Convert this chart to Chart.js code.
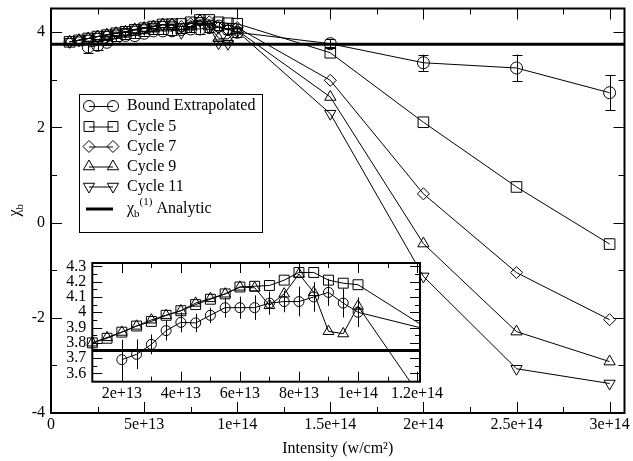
<!DOCTYPE html>
<html><head><meta charset="utf-8">
<script src="https://cdn.jsdelivr.net/npm/chart.js@4"></script>
<style>
html,body{margin:0;padding:0;background:#fff;}
#wrap{position:relative;width:633px;height:461px;overflow:hidden;}
#main{position:absolute;left:0;top:0;}
#inset{position:absolute;left:50px;top:255px;}
</style></head><body>
<div id="wrap"><canvas id="main" width="633" height="461"></canvas><canvas id="inset" width="400" height="150"></canvas></div>
<script>
const FONT = '"Liberation Serif", "Times New Roman", serif';

// ---- data ----
const cycleX = [1e13,1.5e13,2e13,2.5e13,3e13,3.5e13,4e13,4.5e13,5e13,5.5e13,6e13,6.5e13,7e13,7.5e13,8e13,8.5e13,9e13,9.5e13,1e14,1.5e14,2e14,2.5e14,3e14];
const cycle5  = [3.80,3.83,3.87,3.91,3.94,3.98,4.01,4.05,4.085,4.12,4.165,4.17,4.175,4.21,4.26,4.26,4.21,4.19,4.18,3.57,2.11,0.75,-0.45];
const cycle7  = [3.80,3.83,3.87,3.91,3.94,3.98,4.01,4.05,4.08,4.12,4.16,4.17,4.12,4.18,4.24,4.22,4.10,4.05,4.10,2.99,0.605,-1.05,-2.04];
const cycle9  = [3.80,3.835,3.87,3.91,3.95,3.98,4.01,4.06,4.09,4.12,4.165,4.16,4.045,4.12,4.25,4.13,3.875,3.86,4.04,2.64,-0.44,-2.29,-2.92];
const cycle11 = [3.80,3.835,3.87,3.91,3.95,3.98,4.01,4.06,4.09,4.12,4.16,4.15,3.99,4.12,4.24,4.10,3.77,3.76,4.02,2.29,-1.13,-3.07,-3.38];
const boundX  = [2e13,2.5e13,3e13,3.5e13,4e13,4.5e13,5e13,5.5e13,6e13,6.5e13,7e13,7.5e13,8e13,8.5e13,9e13,9.5e13,1e14,1.5e14,2e14,2.5e14,3e14];
const boundY  = [3.69,3.725,3.79,3.88,3.934,3.93,3.98,4.03,4.03,4.03,4.06,4.07,4.07,4.10,4.13,4.06,4.00,3.76,3.36,3.25,2.73];
const boundErr= [0.13,0.097,0.065,0.065,0.065,0.06,0.05,0.065,0.072,0.08,0.075,0.07,0.097,0.097,0.088,0.094,0.097,0.1,0.17,0.28,0.37];
const analyticValue = 3.75;
const seriesNames = ['Bound Extrapolated','Cycle 5','Cycle 7','Cycle 9','Cycle 11'];

// ---- ticks ----
const mainXMajor = [0,5e13,1e14,1.5e14,2e14,2.5e14,3e14];
const mainXLabels = ['0','5e+13','1e+14','1.5e+14','2e+14','2.5e+14','3e+14'];
const mainXMinor = [2.5e13,7.5e13,1.25e14,1.75e14,2.25e14,2.75e14];
const mainYMajor = [-4,-2,0,2,4];
const mainYLabels = ['-4','-2','0','2','4'];
const mainYMinor = [-3,-1,1,3];
const insetXMajor = [2e13,4e13,6e13,8e13,1e14,1.2e14];
const insetXLabels = ['2e+13','4e+13','6e+13','8e+13','1e+14','1.2e+14'];
const insetXMinor = [1e13,3e13,5e13,7e13,9e13,1.1e14];
const insetYMajor = [3.6,3.7,3.8,3.9,4.0,4.1,4.2,4.3];
const insetYLabels = ['3.6','3.7','3.8','3.9','4','4.1','4.2','4.3'];
const insetYMinor = [3.65,3.75,3.85,3.95,4.05,4.15,4.25];

Chart.defaults.color = '#000';
Chart.defaults.font.family = FONT;
Chart.defaults.font.size = 16;

const pts = (xs, ys) => xs.map((x, i) => ({x: x, y: ys[i]}));
function ds(label, data, style, r, extra) {
  return Object.assign({
    label: label, data: data, borderColor: '#000', borderWidth: 1, backgroundColor: 'rgba(0,0,0,0)',
    pointStyle: style, pointRadius: r, pointHoverRadius: r, pointBorderColor: '#000',
    pointBackgroundColor: 'rgba(0,0,0,0)', pointBorderWidth: 1, tension: 0, fill: false
  }, extra || {});
}

function framePlugin(cfg) {
  return {
    id: 'frame_' + cfg.name,
    beforeDraw(chart) {
      if (!cfg.whiteArea) return;
      const {ctx, chartArea: a} = chart;
      ctx.save(); ctx.fillStyle = '#fff';
      ctx.fillRect(a.left, a.top, a.right - a.left, a.bottom - a.top);
      ctx.restore();
    },
    afterDatasetsDraw(chart) {
      // error bars for Bound Extrapolated
      const {ctx, chartArea: a} = chart;
      const xs = chart.scales.x, ys = chart.scales.y;
      ctx.save();
      ctx.beginPath(); ctx.rect(a.left - 10, a.top, a.right - a.left + 10, a.bottom - a.top); ctx.clip();
      ctx.strokeStyle = '#000'; ctx.lineWidth = 1; ctx.beginPath();
      boundX.forEach((x, i) => {
        const px = Math.round(xs.getPixelForValue(x)) + 0.5;
        const p1 = ys.getPixelForValue(boundY[i] - boundErr[i]);
        const p2 = ys.getPixelForValue(boundY[i] + boundErr[i]);
        ctx.moveTo(px, p1); ctx.lineTo(px, p2);
        if (cfg.cap) {
          ctx.moveTo(px - cfg.cap, Math.round(p1) + 0.5); ctx.lineTo(px + cfg.cap, Math.round(p1) + 0.5);
          ctx.moveTo(px - cfg.cap, Math.round(p2) + 0.5); ctx.lineTo(px + cfg.cap, Math.round(p2) + 0.5);
        }
      });
      ctx.stroke(); ctx.restore();
    },
    afterDraw(chart) {
      const {ctx, chartArea: a} = chart;
      const xs = chart.scales.x, ys = chart.scales.y;
      ctx.save(); ctx.strokeStyle = '#000'; ctx.lineWidth = 1; ctx.beginPath();
      const vx = (v, len) => { const p = Math.round(xs.getPixelForValue(v)) + 0.5;
        ctx.moveTo(p, a.bottom); ctx.lineTo(p, a.bottom - len); ctx.moveTo(p, a.top); ctx.lineTo(p, a.top + len); };
      const vy = (v, len) => { const p = Math.round(ys.getPixelForValue(v)) + 0.5;
        ctx.moveTo(a.left, p); ctx.lineTo(a.left + len, p); ctx.moveTo(a.right, p); ctx.lineTo(a.right - len, p); };
      cfg.xMajor.forEach(v => vx(v, cfg.maj)); cfg.xMinor.forEach(v => vx(v, cfg.min));
      cfg.yMajor.forEach(v => vy(v, cfg.maj)); cfg.yMinor.forEach(v => vy(v, cfg.min));
      ctx.stroke();
      ctx.lineWidth = 2;
      ctx.strokeRect(a.left, a.top, a.right - a.left, a.bottom - a.top);
      ctx.restore();
      if (cfg.after) cfg.after(chart);
    }
  };
}

function shape(ctx, style, x, y, r, down) {
  ctx.beginPath();
  if (style === 'circle') ctx.arc(x, y, r, 0, Math.PI * 2);
  else if (style === 'rect') { const s = r * Math.SQRT1_2; ctx.rect(x - s, y - s, 2 * s, 2 * s); }
  else if (style === 'rectRot') { ctx.moveTo(x, y - r); ctx.lineTo(x + r, y); ctx.lineTo(x, y + r); ctx.lineTo(x - r, y); ctx.closePath(); }
  else if (style === 'triangle') { const d = down ? -1 : 1;
    ctx.moveTo(x, y - d * r); ctx.lineTo(x + r * 0.866, y + d * r / 2); ctx.lineTo(x - r * 0.866, y + d * r / 2); ctx.closePath(); }
  ctx.stroke();
}

const legendStyles = [['circle',5.5,false],['rect',7,false],['rectRot',6,false],['triangle',6.5,false],['triangle',6.5,true]];
function drawExtras(chart) {
  const ctx = chart.ctx;
  ctx.save();
  // legend box
  const bx = 79, by = 94, bw = 183, bh = 138;
  ctx.fillStyle = '#fff'; ctx.fillRect(bx, by, bw, bh);
  ctx.strokeStyle = '#000'; ctx.lineWidth = 1; ctx.strokeRect(bx + 0.5, by + 0.5, bw, bh);
  const rows = [106, 126.5, 146.5, 166.5, 186.5, 209];
  const m1 = 89, m2 = 113, tx = 127;
  ctx.fillStyle = '#000'; ctx.textBaseline = 'middle'; ctx.textAlign = 'left';
  ctx.font = '16px ' + FONT;
  seriesNames.forEach((name, i) => {
    const y = rows[i];
    ctx.beginPath(); ctx.moveTo(m1, y + 0.5); ctx.lineTo(m2, y + 0.5); ctx.stroke();
    const st = legendStyles[i];
    shape(ctx, st[0], m1, y, st[1], st[2]);
    shape(ctx, st[0], m2, y, st[1], st[2]);
    ctx.fillText(name, tx, y);
  });
  const ya = rows[5];
  ctx.lineWidth = 3; ctx.beginPath(); ctx.moveTo(86, ya); ctx.lineTo(113, ya); ctx.stroke();
  ctx.font = '16px ' + FONT; ctx.fillText('χ', tx, ya);
  let x = tx + ctx.measureText('χ').width;
  ctx.font = '11px ' + FONT; ctx.fillText('b', x, ya + 5);
  x += ctx.measureText('b').width;
  ctx.fillText('(1)', x, ya - 7);
  x += ctx.measureText('(1)').width;
  ctx.font = '16px ' + FONT; ctx.fillText(' Analytic', x, ya);
  // y-axis title
  ctx.translate(15, 210); ctx.rotate(-Math.PI / 2);
  ctx.textAlign = 'left'; ctx.textBaseline = 'middle';
  ctx.font = '16px ' + FONT;
  const wChi = ctx.measureText('χ').width;
  ctx.fillText('χ', -wChi / 2 - 3, 0);
  ctx.font = '11px ' + FONT; ctx.fillText('b', wChi / 2 - 3, 5);
  ctx.restore();
}

// ---- main chart ----
new Chart(document.getElementById('main'), {
  type: 'line',
  data: { datasets: [
    ds(seriesNames[0], pts(boundX, boundY), 'circle', 6),
    ds(seriesNames[1], pts(cycleX, cycle5), 'rect', 7.5),
    ds(seriesNames[2], pts(cycleX, cycle7), 'rectRot', 6),
    ds(seriesNames[3], pts(cycleX, cycle9), 'triangle', 6.5),
    ds(seriesNames[4], pts(cycleX, cycle11), 'triangle', 6.5, {pointRotation: 180}),
    ds('Analytic', [{x: 0, y: analyticValue}, {x: 3.08e14, y: analyticValue}], 'circle', 0, {borderWidth: 3})
  ]},
  options: {
    responsive: false, animation: false, events: [],
    layout: { padding: {left: 0, top: 8, right: 4, bottom: 0} },
    plugins: { legend: {display: false}, tooltip: {enabled: false} },
    scales: {
      x: { type: 'linear', min: 0, max: 3.08e14,
        grid: {display: false, drawTicks: false}, border: {display: false},
        afterBuildTicks: s => { s.ticks = mainXMajor.map(v => ({value: v})); },
        ticks: { autoSkip: false, maxRotation: 0, minRotation: 0, padding: 2, color: '#000',
          font: {family: FONT, size: 16}, callback: (v, i) => mainXLabels[i] },
        title: { display: true, text: 'Intensity (w/cm²)', color: '#000',
          font: {family: FONT, size: 16}, padding: {top: 0, bottom: 3} },
        afterFit: s => { s.height = 48; s.paddingLeft = 0; s.paddingRight = 0; }
      },
      y: { type: 'linear', min: -4, max: 4.5,
        grid: {display: false, drawTicks: false}, border: {display: false},
        afterBuildTicks: s => { s.ticks = mainYMajor.map(v => ({value: v})); },
        ticks: { autoSkip: false, padding: 6, color: '#000', font: {family: FONT, size: 16},
          callback: (v, i) => mainYLabels[i] },
        afterFit: s => { s.width = 51; s.paddingTop = 0; s.paddingBottom = 0; }
      }
    }
  },
  plugins: [framePlugin({name: 'main', cap: 5, maj: 11, min: 6,
    xMajor: mainXMajor, xMinor: mainXMinor, yMajor: mainYMajor, yMinor: mainYMinor, after: drawExtras})]
});

// ---- inset chart ----
const insetClip = {left: 10, top: 10, right: 0, bottom: 0};
new Chart(document.getElementById('inset'), {
  type: 'line',
  data: { datasets: [
    ds(seriesNames[0], pts(boundX, boundY), 'circle', 5, {clip: insetClip}),
    ds(seriesNames[1], pts(cycleX, cycle5), 'rect', 7, {clip: insetClip}),
    ds(seriesNames[3], pts(cycleX, cycle9), 'triangle', 6.2, {clip: insetClip}),
    ds('Analytic', [{x: 0, y: analyticValue}, {x: 3e14, y: analyticValue}], 'circle', 0, {borderWidth: 3, clip: 0})
  ]},
  options: {
    responsive: false, animation: false, events: [],
    layout: { padding: {left: 0, top: 6.7, right: 30, bottom: 0} },
    plugins: { legend: {display: false}, tooltip: {enabled: false} },
    scales: {
      x: { type: 'linear', min: 1e13, max: 1.21e14,
        grid: {display: false, drawTicks: false}, border: {display: false},
        afterBuildTicks: s => { s.ticks = insetXMajor.map(v => ({value: v})); },
        ticks: { autoSkip: false, maxRotation: 0, minRotation: 0, padding: 2, color: '#000',
          font: {family: FONT, size: 16}, callback: (v, i) => insetXLabels[i] },
        afterFit: s => { s.height = 23.3; s.paddingLeft = 0; s.paddingRight = 0; }
      },
      y: { type: 'linear', min: 3.546, max: 4.322,
        grid: {display: false, drawTicks: false}, border: {display: false},
        afterBuildTicks: s => { s.ticks = insetYMajor.map(v => ({value: v})); },
        ticks: { autoSkip: false, padding: 6, color: '#000', font: {family: FONT, size: 16},
          callback: (v, i) => insetYLabels[i] },
        afterFit: s => { s.width = 42.3; s.paddingTop = 0; s.paddingBottom = 0; }
      }
    }
  },
  plugins: [framePlugin({name: 'inset', cap: 0, maj: 10, min: 5, whiteArea: true,
    xMajor: insetXMajor, xMinor: insetXMinor, yMajor: insetYMajor, yMinor: insetYMinor})]
});
</script>
</body></html>
